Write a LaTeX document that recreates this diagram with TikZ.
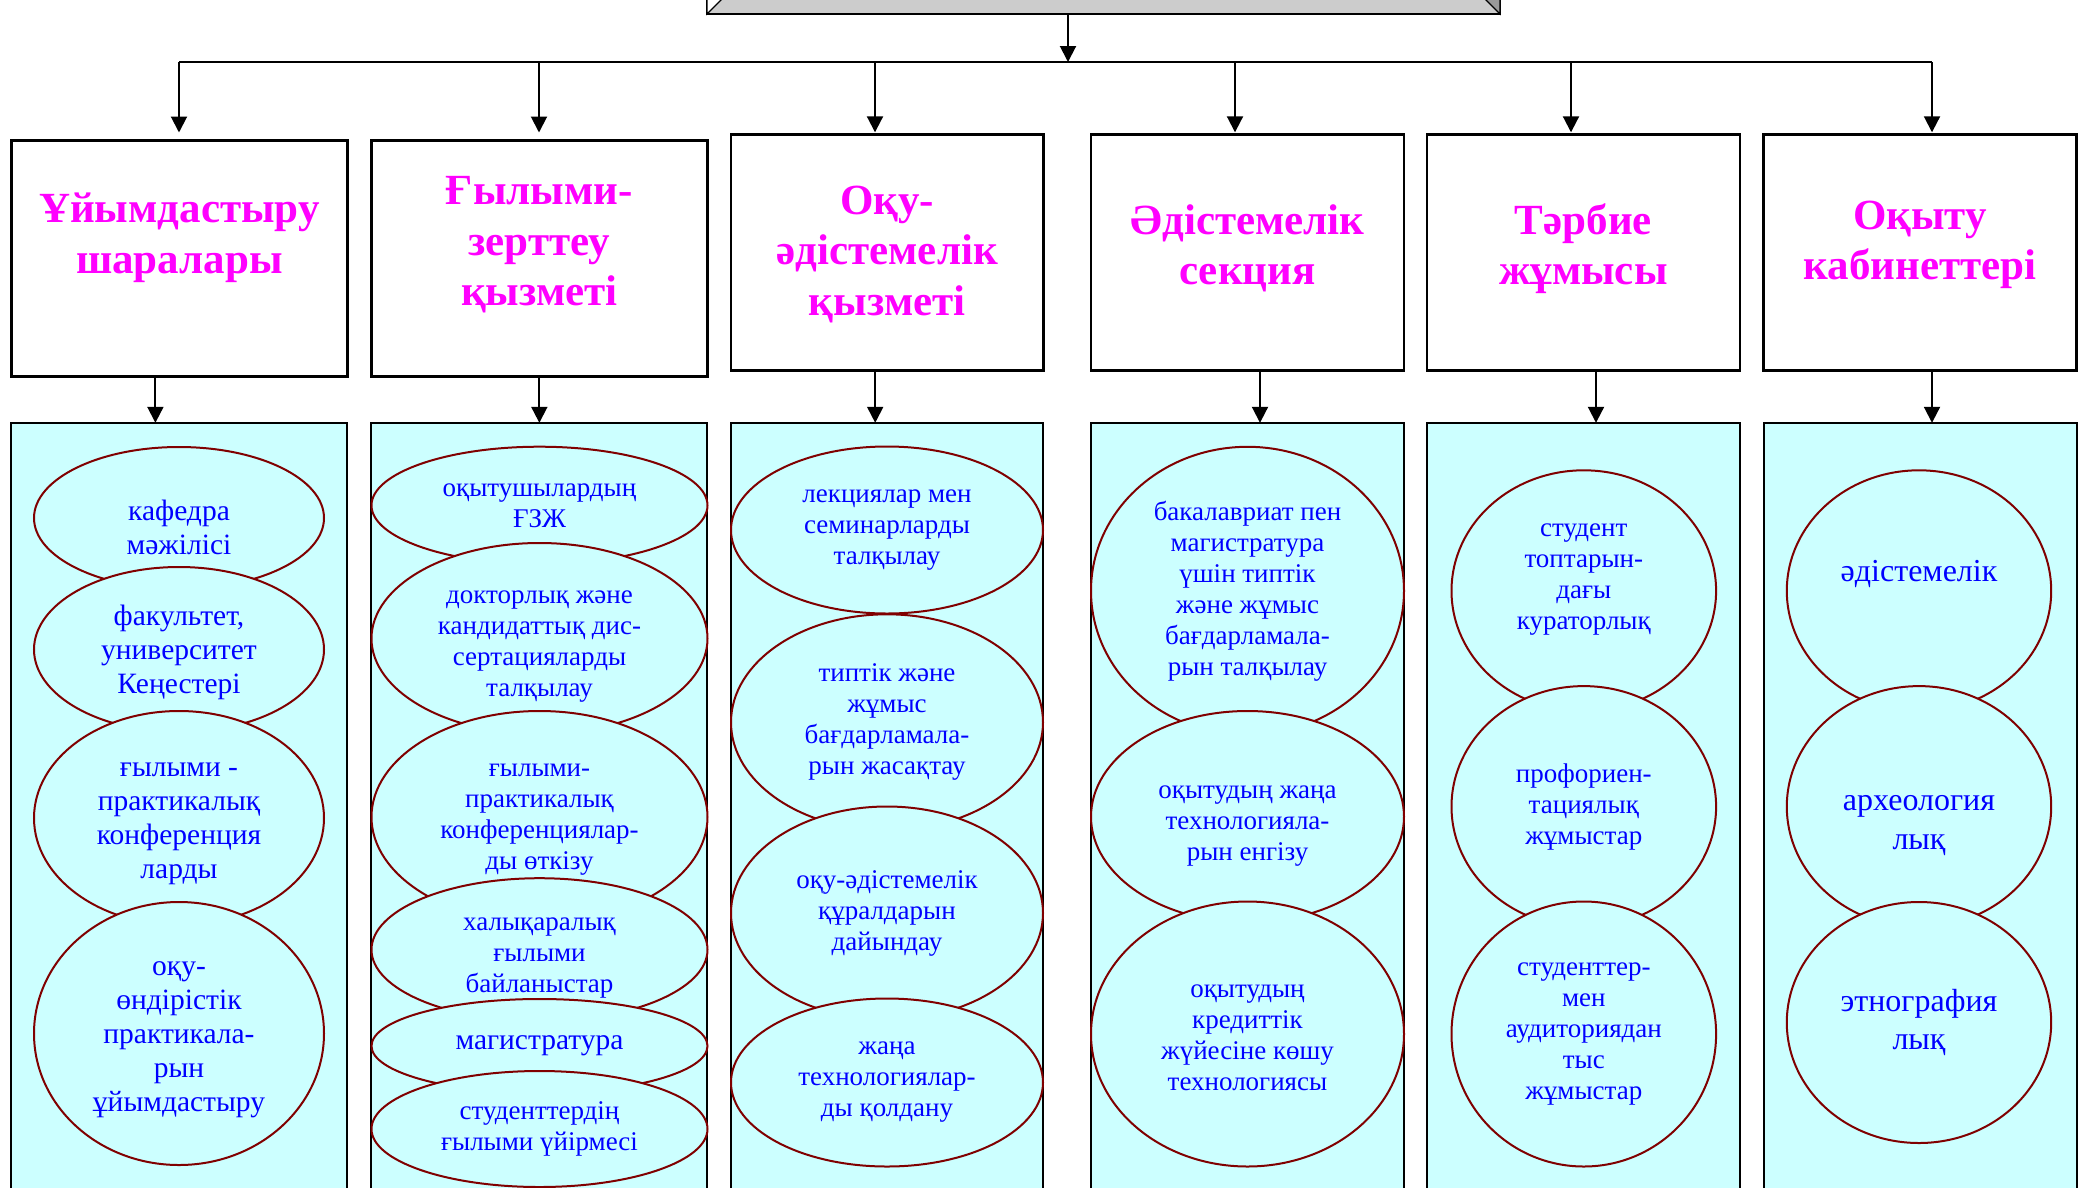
\documentclass[tikz,border=0pt]{standalone}
\usepackage{fontspec}
\setmainfont{Liberation Serif}
\usetikzlibrary{shapes.geometric,arrows.meta,positioning}
\definecolor{cyanfill}{HTML}{CCFFFF}
\definecolor{ovalline}{HTML}{800000}
\definecolor{ovalblue}{HTML}{0000FF}
\definecolor{headpink}{HTML}{FF00FF}
\definecolor{topgrey}{HTML}{CCCCCC}
\definecolor{topdark}{HTML}{999999}

\begin{document}
\begin{tikzpicture}[x=1pt,y=-1pt,
    line/.style={line width=2pt},
    arr/.style={line width=2pt,-{Triangle[length=16pt,width=16pt]}},
    topbox/.style={draw,line width=2pt,fill=topgrey,minimum width=793pt,minimum height=80pt,inner sep=0pt,outer sep=0pt},
    head/.style={draw,line width=2.5pt,fill=white,minimum width=313pt,minimum height=236pt,inner sep=0pt,outer sep=0pt},
    headtext/.style={text=headpink,align=center,font=\fontsize{43}{50.5}\selectfont\bfseries},
    col/.style={draw,line width=2pt,fill=cyanfill,minimum width=313pt,minimum height=777pt,inner sep=0pt,outer sep=0pt},
    otext/.style={text=ovalblue,align=center,font=\fontsize{27}{31}\selectfont},
    big/.style={font=\fontsize{29.5}{34}\selectfont},
    bigger/.style={font=\fontsize{32}{38.5}\selectfont},
    oval/.style={ellipse,draw=ovalline,line width=2pt,fill=cyanfill,inner sep=0pt,outer sep=0pt,otext},
    sz/.style 2 args={minimum width=#1pt,minimum height=#2pt}]
  \useasboundingbox (0,0) rectangle (2081,1187);
  \clip (0,0) rectangle (2081,1187);

  % top box, cut by the page edge
  \node[topbox](TOP) at (1103.5,-26) {};
  \filldraw[fill=white,line width=1.2pt] (TOP.south west) -- ++(30,-30) -- ++(-30,0) -- cycle;
  \filldraw[fill=topdark,line width=1.2pt] (TOP.south east) -- ++(-30,-30) -- ++(30,0) -- cycle;

  % bus
  \coordinate(bt) at (1068,62);
  \coordinate(b1) at (179,62);
  \coordinate(b2) at (539,62);
  \coordinate(b3) at (875,62);
  \coordinate(b4) at (1235,62);
  \coordinate(b5) at (1571,62);
  \coordinate(b6) at (1932,62);
  \draw[line] (b1) -- (b6);
  \draw[arr] (TOP.south -| bt) -- (bt);

  % headers
  \node[head,minimum width=336pt](H1) at (179.4,258.5) {};
  \node[head,minimum width=336pt](H2) at (539.35,258.5) {};
  \node[head,minimum width=312.4pt](H3) at (887.2,252.3) {};
  \node[head](H4) at (1247.5,252.3) {};
  \node[head](H5) at (1583.5,252.3) {};
  \node[head](H6) at (1920,252.3) {};

  \node[headtext](T1) at (179.4,238) {Ұйымдастыру\\шаралары};
  \node[headtext](T2) at (539.35,245) {Ғылыми-\\зерттеу\\қызметі};
  \node[headtext](T3) at (887.2,254) {Оқу-\\әдістемелік\\қызметі};
  \node[headtext](T4) at (1247.5,248.5) {Әдістемелік\\секция};
  \node[headtext](T5) at (1583.5,248.5) {Тәрбие\\жұмысы};
  \node[headtext](T6) at (1920,245) {Оқыту\\кабинеттері};

  \draw[arr,shorten >=8pt] (b1) -- (b1 |- H1.north);
  \draw[arr,shorten >=8pt] (b2) -- (b2 |- H2.north);
  \draw[arr,shorten >=2pt] (b3) -- (b3 |- H3.north);
  \draw[arr,shorten >=2pt] (b4) -- (b4 |- H4.north);
  \draw[arr,shorten >=2pt] (b5) -- (b5 |- H5.north);
  \draw[arr,shorten >=2pt] (b6) -- (b6 |- H6.north);

  % lists
  \node[col,minimum width=336pt](L1) at (179.4,811.3) {};
  \node[col,minimum width=336pt](L2) at (539.35,811.3) {};
  \node[col,minimum width=312.4pt](L3) at (887.2,811.3) {};
  \node[col](L4) at (1247.5,811.3) {};
  \node[col](L5) at (1583.5,811.3) {};
  \node[col](L6) at (1920,811.3) {};

  \draw[arr] ([xshift=-24pt]H1.south) -- ([xshift=-24pt]L1.north);
  \draw[arr] (H2.south) -- (L2.north);
  \draw[arr] ([xshift=-12pt]H3.south) -- ([xshift=-12pt]L3.north);
  \draw[arr] ([xshift=12.5pt]H4.south) -- ([xshift=12.5pt]L4.north);
  \draw[arr] ([xshift=12.5pt]H5.south) -- ([xshift=12.5pt]L5.north);
  \draw[arr] ([xshift=12pt]H6.south) -- ([xshift=12pt]L6.north);

  % first column
  \node[oval,sz={290}{142},label={[otext,big,yshift=-9pt]center:{кафедра\\мәжілісі}}](o11) at (179,518) {};
  \node[oval,sz={290}{165},label={[otext,big,yshift=-3pt]center:{факультет,\\университет\\Кеңестері}}](o12) at (179,649.5) {};
  \node[oval,sz={290}{214},label={[otext,big,yshift=-6pt]center:{ғылыми -\\практикалық\\конференция\\ларды}}](o13) at (179,818) {};
  \node[oval,sz={290}{263},label={[otext,big,yshift=-6pt]center:{оқу-\\өндірістік\\практикала-\\рын\\ұйымдастыру}}](o14) at (179,1033.5) {};

  % second column
  \node[oval,sz={336}{117.4}](o21) at (539.5,505.4) {оқытушылардың\\ҒЗЖ};
  \node[oval,sz={336}{191},label={[otext,yshift=-8pt]center:{докторлық және\\кандидаттық дис-\\сертацияларды\\талқылау}}](o22) at (539.5,638.5) {};
  \node[oval,sz={336}{212},label={[otext,yshift=-3pt]center:{ғылыми-\\практикалық\\конференциялар-\\ды өткізу}}](o23) at (539.5,817) {};
  \node[oval,sz={336}{143},label={[otext,yshift=-8pt]center:{халықаралық\\ғылыми\\байланыстар}}](o24) at (539.5,949.7) {};
  \node[oval,big,sz={336}{94}](o25) at (539.5,1046) {магистратура};
  \node[oval,sz={336}{116}](o26) at (539.5,1129) {студенттердің\\ғылыми үйірмесі};

  % third column
  \node[oval,sz={312}{167}](o31) at (887,530) {лекциялар мен\\семинарларды\\талқылау};
  \node[oval,sz={312}{216}](o32) at (887,722.3) {типтік және\\жұмыс\\бағдарламала-\\рын жасақтау};
  \node[oval,sz={312}{213}](o33) at (887,913) {оқу-әдістемелік\\құралдарын\\дайындау};
  \node[oval,sz={312}{168}](o34) at (887,1082.5) {жаңа\\технологиялар-\\ды қолдану};

  % fourth column
  \node[oval,sz={313}{288}](o41) at (1247.5,590.8) {бакалавриат пен\\магистратура\\үшін типтік\\және жұмыс\\бағдарламала-\\рын талқылау};
  \node[oval,sz={313}{211.4},label={[otext,yshift=-9pt]center:{оқытудың жаңа\\технологияла-\\рын енгізу}}](o42) at (1247.5,816.7) {};
  \node[oval,sz={313}{265},label={[otext,yshift=-4pt]center:{оқытудың\\кредиттік\\жүйесіне көшу\\технологиясы}}](o43) at (1247.5,1034) {};

  % fifth column
  \node[oval,sz={264.6}{241},label={[otext,yshift=11pt]center:{студент\\топтарын-\\дағы\\кураторлық}}](o51) at (1583.8,590.8) {};
  \node[oval,sz={264.6}{241}](o52) at (1583.8,806.6) {профориен-\\тациялық\\жұмыстар};
  \node[oval,sz={264.6}{265}](o53) at (1583.8,1034) {студенттер-\\мен\\аудиториядан\\тыс\\жұмыстар};

  % sixth column
  \node[oval,sz={264.4}{241},label={[otext,bigger,yshift=17pt]center:{әдістемелік}}](o61) at (1919,590.8) {};
  \node[oval,sz={264.4}{241},label={[otext,bigger,yshift=-19pt]center:{археология\\лық}}](o62) at (1919,806.6) {};
  \node[oval,bigger,sz={264.4}{241}](o63) at (1919,1022.5) {этнография\\лық};
\end{tikzpicture}
\end{document}
